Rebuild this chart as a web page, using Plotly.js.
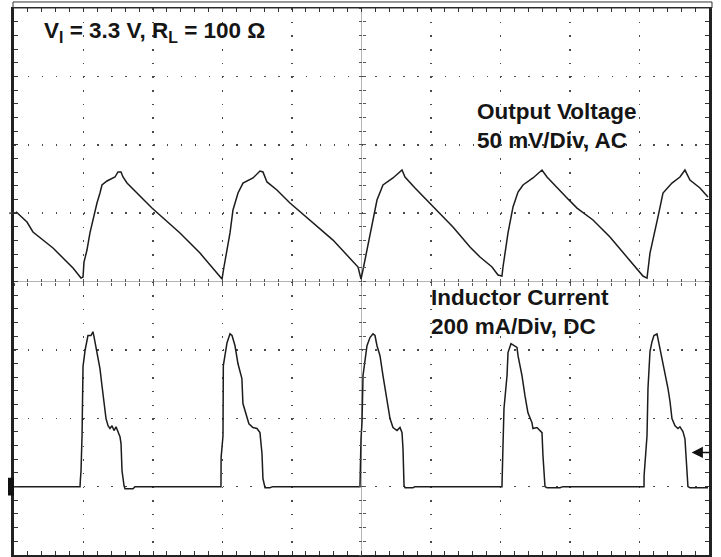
<!DOCTYPE html>
<html>
<head>
<meta charset="utf-8">
<script src="https://cdn.plot.ly/plotly-3.0.1.min.js"></script>
<style>html,body{margin:0;padding:0;background:#fff;}#chart{width:721px;height:557px;}</style>
</head>
<body>
<div id="chart"></div>
<script>
// time in screen divisions (10 div across, trigger at centre)
const timeV = [-4.971,-4.813,-4.727,-4.583,-4.439,-4.295,-4.151,-4.036,-4.007,-3.993,-3.950,-3.907,-3.864,-3.806,-3.763,-3.734,-3.662,-3.547,-3.504,-3.460,-3.432,-3.374,-3.015,-2.612,-2.324,-2.036,-2.007,-1.979,-1.892,-1.849,-1.777,-1.705,-1.561,-1.461,-1.418,-1.360,-1.217,-1.029,-0.410,-0.050,-0.007,0.021,0.079,0.165,0.223,0.309,0.453,0.583,0.626,0.770,0.942,1.086,1.316,1.561,1.705,1.878,1.964,2.021,2.036,2.108,2.180,2.252,2.324,2.467,2.597,2.669,2.813,2.957,3.101,3.331,3.575,3.820,3.978,4.050,4.108,4.151,4.266,4.338,4.467,4.582,4.654,4.726,4.870,4.985];
// output voltage ripple, mV (AC coupled, 50 mV/div)
const voltageMv = [1,-6.5,-13.8,-19.7,-25.5,-32.8,-40.1,-47.5,-46.7,-35.8,-27.0,-14.5,-5.0,7.4,14.7,20.6,23.5,26.4,30.1,30.1,26.4,22.0,3.7,-14.5,-29.2,-46.7,-48.2,-39.4,-14.5,2.3,14.7,22.0,25.7,30.8,30.1,22.8,16.9,7.4,-19.7,-39.4,-48.2,-41.6,-27.0,-2.8,9.6,20.6,25.7,31.5,26.4,18.4,9.6,2.3,-10.2,-24.8,-32.1,-39.4,-45.3,-46.0,-39.4,-14.5,4.5,15.4,20.6,25.7,31.5,26.4,18.4,11.1,3.7,-5.0,-17.5,-32.1,-41.6,-46.0,-47.5,-29.2,-2.8,14.7,22.0,26.4,31.5,24.2,18.4,11.8];

const timeI = [-5.000,-4.050,-4.045,-4.036,-4.021,-4.007,-3.978,-3.950,-3.936,-3.892,-3.864,-3.849,-3.820,-3.791,-3.763,-3.734,-3.705,-3.676,-3.647,-3.619,-3.590,-3.561,-3.532,-3.504,-3.475,-3.460,-3.446,-3.417,-3.403,-3.288,-3.259,
 -2.022,-2.020,-1.993,-1.990,-1.988,-1.935,-1.892,-1.863,-1.820,-1.778,-1.721,-1.706,-1.649,-1.620,-1.562,-1.504,-1.461,-1.432,-1.418,-1.389,-1.388,-1.318,-1.275,
 -0.022,-0.020,-0.007,0.007,0.022,0.079,0.122,0.165,0.194,0.223,0.266,0.309,0.367,0.410,0.453,0.511,0.554,0.583,0.597,0.612,0.626,0.741,0.770,
 2.021,2.036,2.050,2.094,2.108,2.151,2.194,2.237,2.252,2.309,2.352,2.395,2.453,2.467,2.525,2.568,2.597,2.611,2.640,2.669,2.856,2.899,
 4.065,4.066,4.108,4.122,4.151,4.180,4.208,4.252,4.266,4.324,4.367,4.410,4.439,4.467,4.511,4.554,4.582,4.625,4.654,4.669,4.697,4.726,4.985];
// inductor current, mA (DC coupled, 200 mA/div)
const currentMa = [0,0,20,44,149,351,398,424,442,442,453,439,404,374,345,295,237,199,178,170,178,164,175,161,146,126,47,3,-6,-6,0,
 0,85,149,316,354,421,447,442,412,360,316,243,208,184,173,170,158,97,23,0,-3,-3,0,
 0,53,140,187,325,412,436,447,442,412,383,325,257,199,173,164,173,158,111,3,-3,-3,0,
 0,120,228,325,392,418,412,407,383,325,266,216,187,170,173,164,158,91,0,-3,-3,0,
 0,32,149,287,395,424,442,447,433,374,322,287,249,199,178,170,175,161,140,82,0,-3,-3];

const conditionLabel = 'V<sub>I</sub> = 3.3 V, R<sub>L</sub> = 100 Ω';
const voltageLabel = 'Output Voltage<br>50 mV/Div, AC';
const currentLabel = 'Inductor Current<br>200 mA/Div, DC';
const triggerLevelMa = 100;

const traceColor = '#1c1c1c';
const traces = [
  {x: [], y: [], xaxis: 'x', yaxis: 'y', mode: 'lines', showlegend: false, hoverinfo: 'skip'},
  {x: [], y: [], xaxis: 'x2', yaxis: 'y', mode: 'lines', showlegend: false, hoverinfo: 'skip'},
  {x: [], y: [], xaxis: 'x3', yaxis: 'y', mode: 'lines', showlegend: false, hoverinfo: 'skip'},
  {x: [], y: [], xaxis: 'x', yaxis: 'y4', mode: 'lines', showlegend: false, hoverinfo: 'skip'},
  {x: [], y: [], xaxis: 'x', yaxis: 'y5', mode: 'lines', showlegend: false, hoverinfo: 'skip'},
  {x: timeV, y: voltageMv, xaxis: 'x', yaxis: 'y2', mode: 'lines', line: {color: traceColor, width: 1.5}, hoverinfo: 'skip', showlegend: false},
  {x: timeI, y: currentMa, xaxis: 'x', yaxis: 'y3', mode: 'lines', line: {color: traceColor, width: 1.5}, hoverinfo: 'skip', showlegend: false}
];

const font = {family: 'Liberation Sans, Arial, sans-serif', size: 22.5, color: '#151515', weight: 'bold'};
const centreTicks = {range: [-5, 5], dtick: 0.2, tick0: 0, ticklen: 3, tickwidth: 1, tickcolor: '#555', showticklabels: false, showgrid: false, zeroline: false, showline: false, fixedrange: true};
const centreTicksY = Object.assign({}, centreTicks, {range: [-4, 4]});

const layout = {
  width: 721, height: 557,
  margin: {l: 14, r: 12, t: 8, b: 2, pad: 0},
  paper_bgcolor: '#fff', plot_bgcolor: '#fff',
  showlegend: false,
  xaxis: {range: [-5, 5], dtick: 1, tick0: 0, showticklabels: false,
    showgrid: true, gridcolor: '#4a4a4a', gridwidth: 1.5, griddash: '1.5px,12.175px',
    zeroline: true, zerolinecolor: '#b4b4b4', zerolinewidth: 1,
    showline: true, linecolor: '#222', linewidth: 1.5, mirror: 'allticks',
    ticks: 'inside', ticklen: 4, tickcolor: '#333', tickwidth: 1,
    minor: {dtick: 0.2, ticks: 'inside', ticklen: 4, tickcolor: '#333', tickwidth: 1, showgrid: false},
    fixedrange: true},
  yaxis: {range: [-4, 4], dtick: 1, tick0: 0, showticklabels: false,
    showgrid: true, gridcolor: '#4a4a4a', gridwidth: 1.5, griddash: '1.5px,12.4px',
    zeroline: true, zerolinecolor: '#b4b4b4', zerolinewidth: 1,
    showline: true, linecolor: '#222', linewidth: 3, mirror: 'allticks',
    ticks: 'inside', ticklen: 4, tickcolor: '#333', tickwidth: 1,
    minor: {dtick: 0.2, ticks: 'inside', ticklen: 4, tickcolor: '#333', tickwidth: 1, showgrid: false},
    fixedrange: true},
  yaxis2: {overlaying: 'y', range: [-250, 150], visible: false, fixedrange: true},
  yaxis3: {overlaying: 'y', range: [-200, 1400], visible: false, fixedrange: true},
  xaxis2: Object.assign({overlaying: 'x', anchor: 'free', position: 0.5, ticks: 'outside'}, centreTicks),
  xaxis3: Object.assign({overlaying: 'x', anchor: 'free', position: 0.5, ticks: 'inside'}, centreTicks),
  yaxis4: Object.assign({overlaying: 'y', anchor: 'free', position: 0.5, ticks: 'outside'}, centreTicksY),
  yaxis5: Object.assign({overlaying: 'y', anchor: 'free', position: 0.5, ticks: 'inside'}, centreTicksY),
  shapes: [
    {type: 'rect', xref: 'paper', yref: 'paper', x0: -0.0014, x1: 1.0043, y0: 1, y1: 1.011, line: {color: '#333', width: 1}},
    {type: 'rect', xref: 'paper', yref: 'y3', x0: -0.0086, x1: 0, y0: -26, y1: 26, fillcolor: '#111', line: {width: 0}},
    {type: 'line', xref: 'paper', yref: 'y2', x0: -0.007, x1: -0.002, y0: 0, y1: 0, line: {color: '#444', width: 1.5}}
  ],
  annotations: [
    {xref: 'paper', yref: 'paper', x: 0.0400, y: 0.9850, xanchor: 'left', yanchor: 'top', text: conditionLabel, showarrow: false, font: font, align: 'left'},
    {xref: 'paper', yref: 'paper', x: 0.6630, y: 0.8370, xanchor: 'left', yanchor: 'top', text: voltageLabel, showarrow: false, font: font, align: 'left'},
    {xref: 'paper', yref: 'paper', x: 0.5966, y: 0.4970, xanchor: 'left', yanchor: 'top', text: currentLabel, showarrow: false, font: font, align: 'left'},
    {xref: 'paper', yref: 'y3', x: 0.975, y: triggerLevelMa, text: '', showarrow: true, ax: 19, ay: 0, arrowhead: 2, arrowsize: 1.5, arrowwidth: 1.5, arrowcolor: '#111', standoff: 0}
  ]
};

Plotly.newPlot('chart', traces, layout, {staticPlot: true, displayModeBar: false});
</script>
</body>
</html>
